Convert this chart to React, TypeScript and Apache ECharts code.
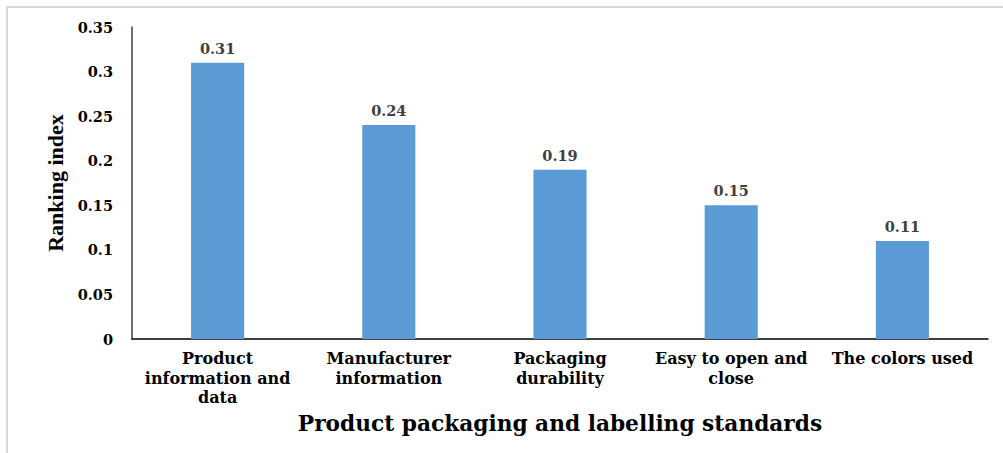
import React, { useEffect, useRef } from "react";
import * as echarts from "echarts";

const categories = [
  "Product\ninformation and\ndata",
  "Manufacturer\ninformation",
  "Packaging\ndurability",
  "Easy to open and\nclose",
  "The colors used",
];
const values = [0.31, 0.24, 0.19, 0.15, 0.11];
const yTicks = { min: 0, max: 0.35, interval: 0.05 };
const xTitle = "Product packaging and labelling standards";
const yTitle = "Ranking index";

export default function App() {
  const ref = useRef<HTMLDivElement>(null);
  useEffect(() => {
    if (!ref.current) return;
    const chart = echarts.init(ref.current, null, { renderer: "svg" });
    const serif = "DejaVu Serif";
    chart.setOption({
      animation: false,
      backgroundColor: "#ffffff",
      grid: { left: 132, right: 15, top: 27, bottom: 114, containLabel: false },
      graphic: [
        { type: "line", shape: { x1: 6, y1: 7, x2: 1003, y2: 7 }, style: { stroke: "#d9d9d9", lineWidth: 2 } },
        { type: "line", shape: { x1: 7, y1: 6, x2: 7, y2: 453 }, style: { stroke: "#d9d9d9", lineWidth: 2 } },
      ],
      xAxis: {
        type: "category",
        data: categories,
        name: xTitle,
        nameLocation: "middle",
        nameGap: 73,
        nameTextStyle: { fontFamily: serif, fontWeight: "bold", fontSize: 21.7, color: "#000" },
        axisLine: { show: true, lineStyle: { color: "#000", width: 1.5 } },
        axisTick: { show: false },
        axisLabel: {
          interval: 0,
          margin: 10,
          fontFamily: serif,
          fontWeight: "bold",
          fontSize: 16,
          lineHeight: 19.5,
          color: "#000",
        },
      },
      yAxis: {
        type: "value",
        min: yTicks.min,
        max: yTicks.max,
        interval: yTicks.interval,
        name: yTitle,
        nameLocation: "middle",
        nameGap: 66,
        nameTextStyle: { fontFamily: "Liberation Serif", fontWeight: "bold", fontSize: 22, color: "#000" },
        axisLine: { show: true, lineStyle: { color: "#404040", width: 1.5 } },
        axisTick: { show: false },
        splitLine: { show: false },
        axisLabel: {
          margin: 19,
          fontFamily: serif,
          fontWeight: "bold",
          fontSize: 14.5,
          color: "#000",
        },
      },
      series: [
        {
          type: "bar",
          data: values,
          barWidth: "31%",
          itemStyle: { color: "#5B9BD5" },
          label: {
            show: true,
            position: "top",
            distance: 7,
            fontFamily: serif,
            fontWeight: "bold",
            fontSize: 14.5,
            color: "#404040",
          },
        },
      ],
    });
    return () => chart.dispose();
  }, []);
  return (
    <div
      ref={ref}
      style={{ position: "fixed", left: 0, top: 0, width: 1003, height: 453 }}
    />
  );
}
